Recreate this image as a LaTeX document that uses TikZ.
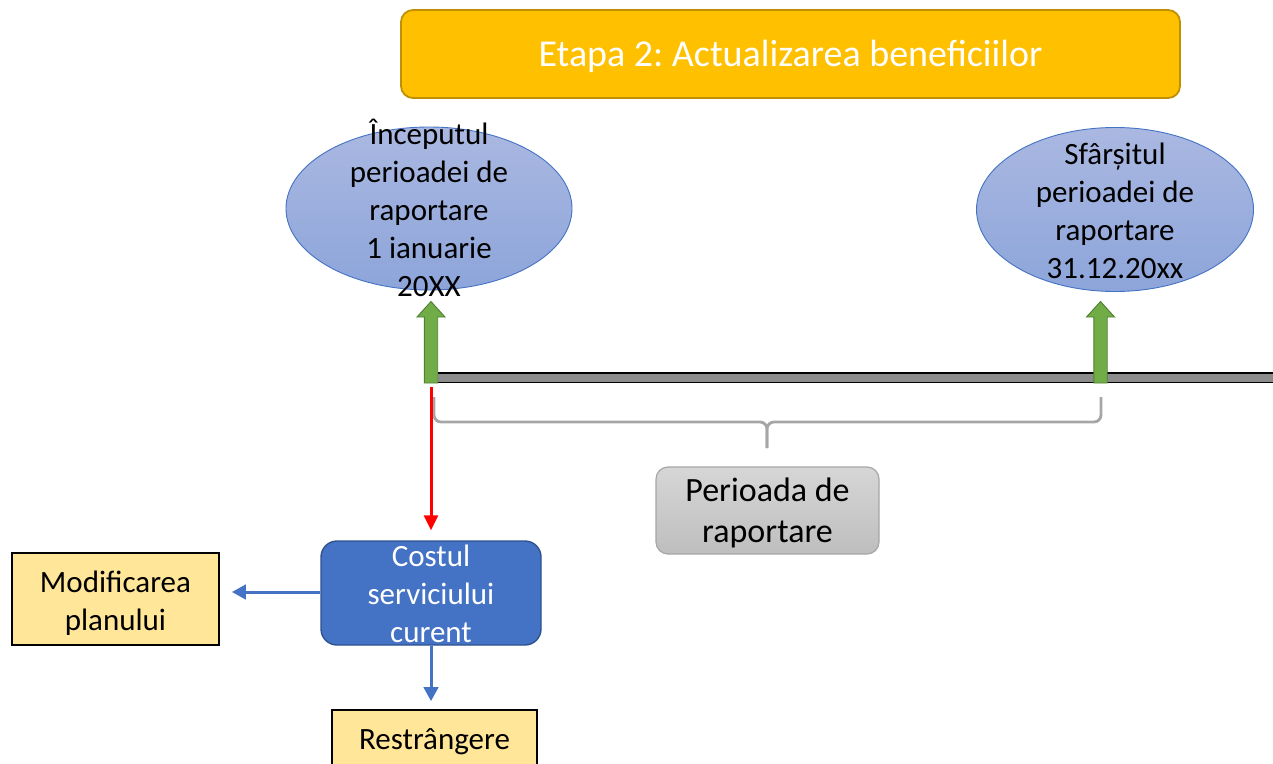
\documentclass[tikz,border=0pt]{standalone}
\usepackage{fontspec}
\setmainfont{Carlito}
\frenchspacing
\usetikzlibrary{shapes.geometric,arrows.meta}
\definecolor{titlefill}{HTML}{FFC000}
\definecolor{titledraw}{HTML}{BF9000}
\definecolor{elltop}{HTML}{AAB8E1}
\definecolor{ellbot}{HTML}{8DA5DA}
\definecolor{elldraw}{HTML}{4472C4}
\definecolor{grfill}{HTML}{70AD47}
\definecolor{grdraw}{HTML}{507E32}
\definecolor{barfill}{HTML}{8C8C8C}
\definecolor{bracecol}{HTML}{A6A6A6}
\definecolor{pertop}{HTML}{D6D6D6}
\definecolor{perbot}{HTML}{BEBEBE}
\definecolor{perdraw}{HTML}{A6A6A6}
\definecolor{costfill}{HTML}{4472C4}
\definecolor{costdraw}{HTML}{2F528F}
\definecolor{yelfill}{HTML}{FFE699}
\definecolor{bluearr}{HTML}{4472C4}
\definecolor{redarr}{HTML}{FF0000}
\tikzset{
  txt/.style={inner sep=0pt, align=center, font=\fontsize{31}{38}\selectfont},
  ellnode/.style={ellipse, draw=elldraw, line width=0.9pt, top color=elltop, bottom color=ellbot, inner sep=0pt},
  garrowpath/.style={fill=grfill, draw=grdraw, line width=0.9pt},
  garrow/.pic={\path[garrowpath] (-6.7,0) -- (-6.7,-66) -- (-14,-66) -- (0,-81.5) -- (14,-66) -- (6.7,-66) -- (6.7,0) -- cycle;},
  yelbox/.style={rectangle, fill=yelfill, draw=black, line width=1.8pt, inner sep=0pt},
  bluearrow/.style={draw=bluearr, line width=3pt, -{Triangle[width=14.5pt,length=14pt]}},
  redarrow/.style={draw=redarr, line width=3pt, -{Triangle[width=14pt,length=15pt]}},
  bracestyle/.style={draw=bracecol, line width=2.8pt, rounded corners=7pt},
}
\begin{document}
\begin{tikzpicture}[x=1pt,y=-1pt]
\useasboundingbox (0,0) rectangle (1273,763);

% title
\node[rectangle, rounded corners=12pt, fill=titlefill, draw=titledraw, line width=1.8pt,
      minimum width=779pt, minimum height=88pt, inner sep=0pt, text=white,
      font=\fontsize{38}{46}\selectfont] (title) at (790.5,54) {};
\node[inner sep=0pt, text=white, font=\fontsize{38}{46}\selectfont] (titlet) at (790.5,56) {Etapa 2: Actualizarea beneficiilor};

% ellipses
\node[ellnode, minimum width=286pt, minimum height=163pt] (e1) at (429,208.5) {};
\node[txt] (e1t) at (429,208) {Începutul\\perioadei de\\raportare\\1 ianuarie\\20XX};
\node[ellnode, minimum width=277pt, minimum height=164pt] (e2) at (1115,209.5) {};
\node[txt] (e2t) at (1115,210.5) {Sfârșitul\\perioadei de\\raportare\\31.12.20xx};

% timeline bar
\fill[barfill] (437.7,373) rectangle (1280,382.5);
\draw[black, line width=1.6pt] (437.7,373) -- (1280,373);
\draw[black, line width=1.2pt] (437.7,382.5) -- (1280,382.5);

% green arrows
\pic at (431,383) {garrow};
\pic at (1100.5,383) {garrow};
\coordinate (g1b) at (431,387);

% brace
\coordinate (bl) at (434,397);
\coordinate (br) at (1101,397);
\coordinate (bm) at (767,448);
\path[bracestyle] (bl) -- (434,422) -- (767,422) -- (bm);
\path[bracestyle] (br) -- (1101,422) -- (767,422) -- (bm);

% period box
\node[rectangle, rounded corners=12pt, top color=pertop, bottom color=perbot, draw=perdraw, line width=1.2pt,
      minimum width=223pt, minimum height=87pt, inner sep=0pt] (per) at (767.5,510.5) {};
\node[inner sep=0pt, align=center, font=\fontsize{34}{41}\selectfont] (pert) at (767.5,513) {Perioada de\\raportare};

% cost box
\node[rectangle, rounded corners=16pt, fill=costfill, draw=costdraw, line width=1.4pt,
      minimum width=220pt, minimum height=104pt, inner sep=0pt] (cost) at (431,593) {};
\node[txt, text=white] (costt) at (431,593.5) {Costul\\serviciului\\curent};

% yellow boxes
\node[yelbox, minimum width=207pt, minimum height=92pt] (modif) at (115.5,599) {};
\node[txt] (modift) at (115.5,603) {Modificarea\\planului};
\node[yelbox, minimum width=205pt, minimum height=70pt] (restr) at (434.5,745) {};
\node[txt] (restrt) at (434.5,742) {Restrângere};

% connectors
\draw[redarrow, shorten >=10pt] (g1b) -- (cost.north);
\draw[bluearrow, shorten >=12pt] ([yshift=1pt]cost.west) -- ([yshift=1pt]cost.west -| modif.east);
\draw[bluearrow, shorten >=8pt] (cost.south) -- (cost.south |- restr.north);
\end{tikzpicture}
\end{document}
